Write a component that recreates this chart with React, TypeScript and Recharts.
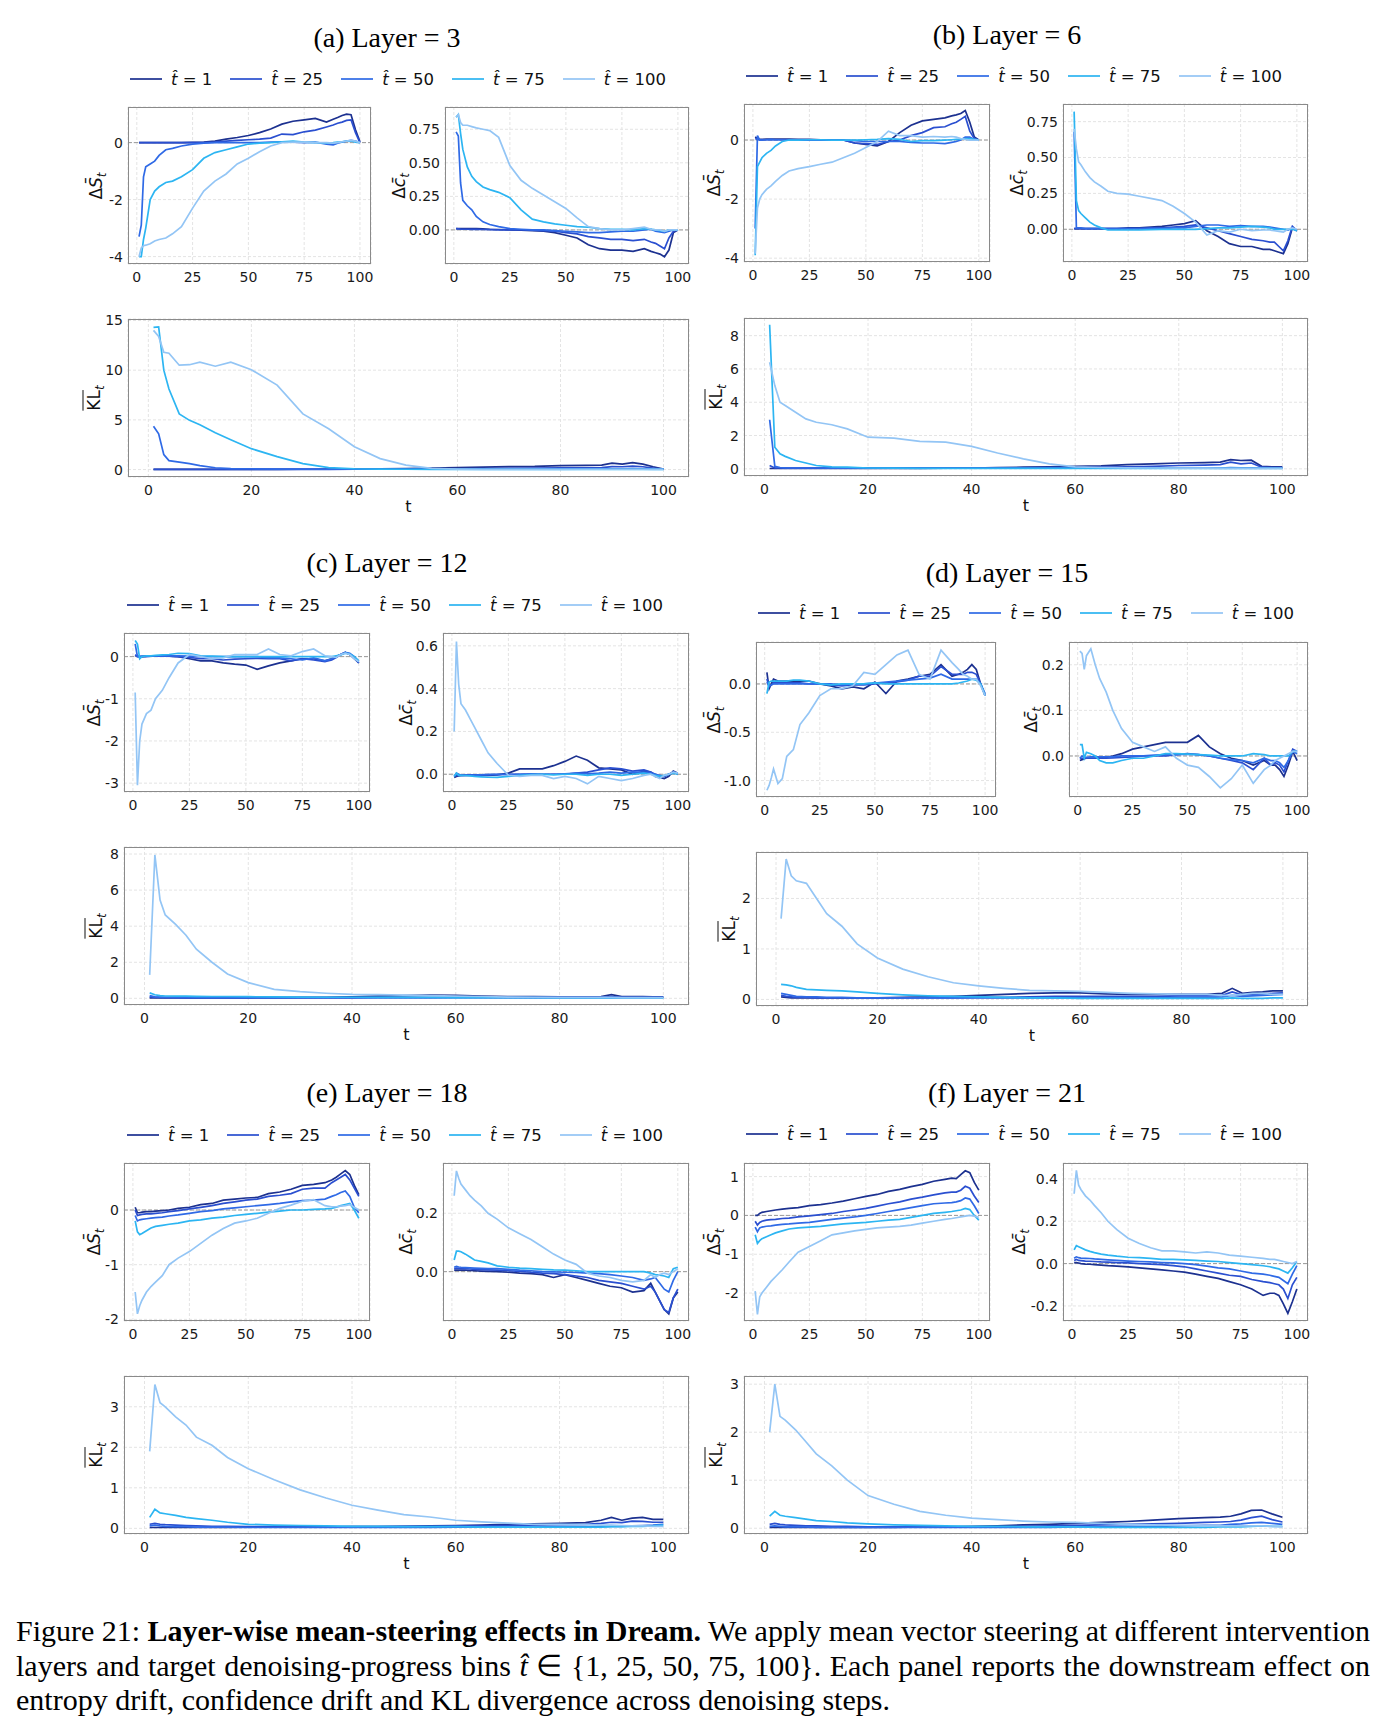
import React from "react";
import { LineChart, Line, XAxis, YAxis, CartesianGrid, ReferenceLine } from "recharts";

// denoising step grid shared by every series
const T = [1, 2, 3, 4, 6, 8, 10, 13, 16, 20, 25, 30, 35, 40, 45, 50, 55, 60, 65, 70, 75, 80, 85, 88, 90, 92, 94, 96, 98, 100];

const BINS = ["1", "25", "50", "75", "100"];
const COLORS = ["#1c3190", "#2a4fd0", "#2f6ae6", "#2cb5f2", "#93c5f5"];

const X_SMALL = [0, 25, 50, 75, 100];
const X_KL = [0, 20, 40, 60, 80, 100];

// (a) Layer = 3
const a_dS_1 = [0, 0, 0, 0, 0, 0, 0, 0, 0, 0, 0.01, 0.02, 0.05, 0.12, 0.18, 0.25, 0.35, 0.48, 0.65, 0.75, 0.8, 0.85, 0.72, 0.82, 0.88, 0.95, 1.0, 0.98, 0.45, 0.03];
const a_dS_25 = [0, 0, 0, 0, 0, 0, 0, 0, 0, 0, 0, 0, 0.02, 0.05, 0.08, 0.1, 0.12, 0.16, 0.3, 0.28, 0.38, 0.44, 0.55, 0.62, 0.68, 0.72, 0.78, 0.8, 0.35, 0.0];
const a_dS_50 = [-3.3, -2.9, -1.2, -0.85, -0.75, -0.65, -0.45, -0.25, -0.2, -0.12, -0.05, -0.02, 0, 0, 0, 0, 0, 0.02, 0.03, 0.02, 0, 0.02, -0.05, -0.08, -0.02, 0.02, 0.05, 0.08, 0.05, 0];
const a_dS_75 = [-4.0, -4.0, -3.4, -3.0, -2.0, -1.7, -1.55, -1.4, -1.35, -1.2, -0.95, -0.55, -0.35, -0.25, -0.15, -0.05, -0.02, 0, 0.03, 0.05, 0.02, 0, -0.02, 0, 0.02, 0.03, 0.05, 0.06, 0.02, 0];
const a_dS_100 = [-4.0, -3.7, -3.62, -3.6, -3.55, -3.45, -3.4, -3.35, -3.2, -2.95, -2.3, -1.7, -1.35, -1.1, -0.75, -0.55, -0.32, -0.12, 0, 0.02, 0.02, 0, 0, -0.02, 0, 0.03, 0.05, 0.08, 0.05, 0];

const a_dc_1 = [0.01, 0.01, 0.01, 0.01, 0.01, 0.01, 0.01, 0.008, 0.005, 0.003, 0, -0.002, -0.005, -0.01, -0.02, -0.04, -0.06, -0.11, -0.14, -0.15, -0.15, -0.16, -0.14, -0.16, -0.17, -0.18, -0.2, -0.15, -0.02, 0];
const a_dc_25 = [0.01, 0.008, 0.006, 0.005, 0.005, 0.004, 0.004, 0.003, 0.002, 0, 0, 0, -0.002, -0.005, -0.01, -0.02, -0.03, -0.05, -0.06, -0.07, -0.07, -0.08, -0.07, -0.09, -0.1, -0.12, -0.14, -0.06, -0.01, 0];
const a_dc_50 = [0.73, 0.7, 0.35, 0.22, 0.18, 0.15, 0.1, 0.06, 0.04, 0.025, 0.01, 0.005, 0, 0, -0.005, -0.01, -0.015, -0.02, -0.02, -0.015, -0.01, -0.01, 0, 0.005, -0.01, -0.015, -0.02, -0.01, 0, 0];
const a_dc_75 = [0.84, 0.86, 0.72, 0.6, 0.47, 0.4, 0.36, 0.32, 0.3, 0.28, 0.24, 0.15, 0.08, 0.06, 0.045, 0.035, 0.025, 0.02, 0.01, 0.005, 0.005, 0, 0.01, 0.005, 0, -0.005, -0.01, 0, 0, 0];
const a_dc_100 = [0.84, 0.86, 0.8, 0.78, 0.78, 0.77, 0.76, 0.75, 0.74, 0.69, 0.48, 0.37, 0.31, 0.26, 0.21, 0.16, 0.09, 0.025, 0.01, 0, 0, 0.01, 0.02, 0.005, 0, 0, -0.01, 0, 0, 0];

const a_KL_1 = [0.02, 0.02, 0.02, 0.02, 0.02, 0.02, 0.02, 0.02, 0.02, 0.02, 0.02, 0.03, 0.04, 0.05, 0.08, 0.1, 0.15, 0.2, 0.25, 0.3, 0.32, 0.4, 0.42, 0.45, 0.65, 0.55, 0.7, 0.55, 0.28, 0.05];
const a_KL_25 = [0.02, 0.02, 0.02, 0.02, 0.02, 0.02, 0.02, 0.02, 0.02, 0.02, 0.02, 0.02, 0.02, 0.03, 0.04, 0.05, 0.07, 0.08, 0.1, 0.12, 0.14, 0.16, 0.18, 0.2, 0.3, 0.28, 0.35, 0.28, 0.15, 0.03];
const a_KL_50 = [4.35, 3.6, 1.5, 0.9, 0.75, 0.6, 0.4, 0.18, 0.1, 0.08, 0.05, 0.04, 0.03, 0.03, 0.03, 0.03, 0.03, 0.04, 0.05, 0.05, 0.05, 0.06, 0.06, 0.06, 0.08, 0.08, 0.1, 0.08, 0.05, 0.03];
const a_KL_75 = [14.3, 14.35, 10.0, 8.1, 5.6, 4.95, 4.5, 3.7, 3.0, 2.1, 1.3, 0.6, 0.2, 0.08, 0.05, 0.03, 0.02, 0.02, 0.02, 0.02, 0.02, 0.02, 0.02, 0.02, 0.02, 0.02, 0.02, 0.02, 0.02, 0.01];
const a_KL_100 = [14.0, 13.4, 11.8, 11.7, 10.5, 10.55, 10.8, 10.4, 10.8, 10.05, 8.5, 5.6, 4.1, 2.3, 1.1, 0.45, 0.12, 0.05, 0.02, 0.02, 0.02, 0.02, 0.03, 0.03, 0.03, 0.03, 0.03, 0.03, 0.02, 0.01];

// (b) Layer = 6
const b_dS_1 = [0.1, 0.05, 0.02, 0.02, 0.03, 0.03, 0.03, 0.03, 0.03, 0.02, 0.02, 0.01, 0.01, 0, -0.1, -0.15, -0.2, -0.05, 0.25, 0.5, 0.65, 0.7, 0.75, 0.82, 0.85, 0.9, 1.0, 0.6, 0.1, 0];
const b_dS_25 = [0.05, 0.02, 0.01, 0.01, 0.01, 0.01, 0.01, 0.01, 0.01, 0.01, 0, 0, 0, 0, -0.1, -0.12, -0.15, -0.05, 0, 0.15, 0.25, 0.42, 0.45, 0.55, 0.6, 0.7, 0.8, 0.3, 0.05, 0];
const b_dS_50 = [-3.0, 0.15, 0.0, 0.0, 0.01, 0.02, 0.01, 0.01, 0.0, 0.0, 0.0, 0.0, 0.0, 0.0, -0.02, -0.05, -0.05, -0.05, -0.05, -0.08, -0.1, -0.1, -0.12, -0.08, -0.05, 0.0, 0.1, 0.1, 0.02, 0];
const b_dS_75 = [-3.9, -0.9, -0.75, -0.6, -0.45, -0.35, -0.2, -0.05, 0, 0, 0.01, 0.01, 0, 0, 0, 0.01, 0.02, 0.05, 0.02, -0.05, -0.02, -0.02, 0, 0.01, 0.02, 0.03, 0.05, 0.05, 0.02, 0];
const b_dS_100 = [-3.85, -2.3, -2.0, -1.85, -1.67, -1.55, -1.4, -1.2, -1.05, -0.97, -0.9, -0.82, -0.75, -0.6, -0.45, -0.25, -0.05, 0.3, 0.15, 0.15, 0.1, 0.12, 0.1, 0.12, 0.1, 0.05, 0.02, 0, 0, 0];

const b_dc_1 = [0.005, 0.005, 0.005, 0.005, 0.005, 0.005, 0.005, 0.005, 0.005, 0.005, 0.01, 0.01, 0.015, 0.02, 0.03, 0.04, 0.06, -0.01, -0.05, -0.1, -0.12, -0.12, -0.14, -0.14, -0.15, -0.16, -0.17, -0.1, 0.01, -0.01];
const b_dc_25 = [0.005, 0.005, 0.005, 0.005, 0.005, 0.005, 0.005, 0.005, 0.005, 0.005, 0.005, 0.005, 0.01, 0.01, 0.015, 0.02, 0.03, 0.01, -0.01, -0.03, -0.05, -0.07, -0.08, -0.09, -0.09, -0.12, -0.15, -0.08, 0.02, -0.01];
const b_dc_50 = [0.68, 0.01, 0.01, 0.01, 0.005, 0.005, 0.005, 0.005, 0.005, 0.005, 0.005, 0.005, 0.005, 0.005, 0.01, 0.01, 0.02, 0.03, 0.03, 0.02, 0.025, 0.02, 0.02, 0.015, 0.01, 0.005, 0, -0.005, 0.01, -0.01];
const b_dc_75 = [0.82, 0.2, 0.13, 0.11, 0.08, 0.05, 0.03, 0.01, -0.005, -0.005, -0.005, -0.005, -0.003, 0, 0, 0, 0, 0.005, 0.01, 0.01, 0.015, 0.02, 0.015, 0.01, 0, 0, 0, 0, 0, -0.01];
const b_dc_100 = [0.7, 0.56, 0.47, 0.45, 0.4, 0.36, 0.33, 0.3, 0.265, 0.25, 0.245, 0.23, 0.215, 0.2, 0.16, 0.11, 0.05, -0.04, -0.01, -0.02, 0, -0.01, -0.005, -0.005, -0.01, -0.015, -0.02, 0, 0.01, 0];

const b_KL_1 = [0.02, 0.03, 0.03, 0.03, 0.03, 0.03, 0.03, 0.03, 0.03, 0.03, 0.03, 0.03, 0.04, 0.05, 0.07, 0.1, 0.12, 0.15, 0.18, 0.25, 0.3, 0.35, 0.37, 0.4, 0.55, 0.5, 0.52, 0.15, 0.12, 0.12];
const b_KL_25 = [0.2, 0.05, 0.05, 0.05, 0.04, 0.04, 0.04, 0.04, 0.04, 0.04, 0.04, 0.04, 0.04, 0.04, 0.05, 0.06, 0.07, 0.08, 0.1, 0.12, 0.15, 0.2, 0.22, 0.25, 0.4, 0.3, 0.35, 0.1, 0.08, 0.08];
const b_KL_50 = [2.95, 0.15, 0.08, 0.06, 0.05, 0.05, 0.05, 0.04, 0.04, 0.04, 0.04, 0.04, 0.04, 0.04, 0.04, 0.04, 0.04, 0.04, 0.04, 0.04, 0.04, 0.05, 0.05, 0.05, 0.08, 0.06, 0.06, 0.05, 0.05, 0.05];
const b_KL_75 = [8.65, 1.3, 0.9, 0.75, 0.5, 0.35, 0.2, 0.12, 0.1, 0.05, 0.04, 0.03, 0.03, 0.03, 0.03, 0.03, 0.03, 0.03, 0.03, 0.03, 0.03, 0.03, 0.03, 0.03, 0.03, 0.03, 0.03, 0.03, 0.03, 0.03];
const b_KL_100 = [6.4, 5.0, 4.0, 3.8, 3.4, 3.0, 2.8, 2.65, 2.4, 1.9, 1.85, 1.65, 1.6, 1.35, 0.95, 0.6, 0.3, 0.12, 0.08, 0.06, 0.05, 0.04, 0.04, 0.03, 0.03, 0.03, 0.03, 0.03, 0.03, 0.03];

// (c) Layer = 12
const c_dS_1 = [0.02, 0.01, 0, 0, 0.01, 0.01, 0.01, 0.01, 0.01, 0, -0.05, -0.1, -0.1, -0.15, -0.18, -0.2, -0.3, -0.22, -0.15, -0.1, -0.05, -0.05, -0.1, -0.05, 0, 0.05, 0.1, 0.05, -0.05, -0.15];
const c_dS_25 = [0.05, 0, 0, 0, 0, 0.01, 0.01, 0.01, 0.01, 0, -0.02, -0.05, -0.05, -0.08, -0.06, -0.05, -0.04, -0.05, -0.05, -0.1, -0.05, -0.08, -0.12, -0.08, -0.02, 0.05, 0.1, 0.05, -0.03, -0.15];
const c_dS_50 = [0.3, 0, 0, 0.01, 0.01, 0.01, 0.02, 0.02, 0.02, 0.02, 0.01, 0, 0, 0, 0, 0, 0, -0.03, -0.03, -0.05, -0.08, -0.03, -0.1, -0.05, 0, 0.05, 0.1, 0.08, 0, -0.12];
const c_dS_75 = [0.38, 0.3, -0.05, 0, 0.02, 0.02, 0.03, 0.04, 0.05, 0.08, 0.07, 0.02, 0.01, 0, 0, 0, 0, 0, 0, 0, 0, 0, 0, 0, 0.02, 0.04, 0.08, 0.06, 0, -0.1];
const c_dS_100 = [-0.85, -3.05, -2.0, -1.6, -1.35, -1.27, -1.0, -0.8, -0.5, -0.15, 0.05, 0, -0.05, -0.03, 0.05, 0.05, 0.05, 0.18, 0.05, 0.02, 0.12, 0.18, 0.02, 0, -0.02, 0.05, 0.08, 0.05, -0.05, -0.12];

const c_dc_1 = [-0.015, -0.01, -0.008, -0.006, -0.005, -0.005, -0.005, -0.005, -0.005, -0.003, 0.005, 0.025, 0.025, 0.025, 0.04, 0.06, 0.085, 0.065, 0.03, 0.025, 0.02, 0, 0.015, 0.01, -0.01, -0.015, -0.02, -0.01, 0.015, 0.005];
const c_dc_25 = [-0.01, -0.005, -0.005, -0.005, -0.004, -0.003, -0.003, -0.003, -0.002, -0.002, 0, 0, 0, 0, 0, 0, 0.005, 0.01, 0.02, 0.03, 0.025, 0.015, 0.02, 0.01, 0, -0.01, -0.01, 0, 0.01, 0];
const c_dc_50 = [-0.01, 0.005, 0, -0.005, -0.005, -0.004, -0.004, -0.003, -0.002, 0, -0.002, 0, 0.002, 0, 0, 0.002, 0.005, 0.002, 0.005, 0.01, 0.005, 0.01, 0.01, 0.005, 0, -0.005, -0.01, 0, 0.01, 0.005];
const c_dc_75 = [-0.01, 0.005, -0.005, -0.005, -0.006, -0.008, -0.01, -0.012, -0.014, -0.015, -0.01, -0.005, -0.002, 0, -0.003, 0, 0, -0.005, 0, 0, -0.005, 0, 0.005, 0, -0.005, -0.01, -0.005, 0, 0.005, 0];
const c_dc_100 = [0.2, 0.62, 0.42, 0.33, 0.3, 0.26, 0.22, 0.16, 0.1, 0.05, -0.005, -0.01, -0.005, -0.005, -0.02, -0.01, -0.02, -0.045, -0.01, -0.02, -0.03, -0.02, -0.005, 0, -0.01, -0.02, -0.005, 0, 0.01, 0.005];

const c_KL_1 = [0.02, 0.02, 0.02, 0.02, 0.02, 0.02, 0.02, 0.03, 0.03, 0.03, 0.04, 0.05, 0.06, 0.08, 0.12, 0.15, 0.18, 0.17, 0.12, 0.1, 0.09, 0.08, 0.08, 0.1, 0.2, 0.1, 0.1, 0.1, 0.08, 0.08];
const c_KL_25 = [0.08, 0.06, 0.05, 0.04, 0.04, 0.03, 0.03, 0.03, 0.03, 0.03, 0.03, 0.03, 0.03, 0.03, 0.04, 0.04, 0.04, 0.05, 0.05, 0.05, 0.05, 0.05, 0.05, 0.06, 0.1, 0.06, 0.06, 0.06, 0.06, 0.06];
const c_KL_50 = [0.15, 0.08, 0.07, 0.06, 0.05, 0.05, 0.05, 0.04, 0.04, 0.04, 0.04, 0.04, 0.04, 0.04, 0.04, 0.04, 0.04, 0.04, 0.04, 0.04, 0.04, 0.04, 0.04, 0.04, 0.05, 0.04, 0.04, 0.04, 0.04, 0.04];
const c_KL_75 = [0.3, 0.2, 0.15, 0.13, 0.12, 0.12, 0.11, 0.1, 0.1, 0.09, 0.08, 0.07, 0.06, 0.06, 0.05, 0.05, 0.05, 0.04, 0.04, 0.04, 0.04, 0.03, 0.03, 0.03, 0.03, 0.03, 0.03, 0.03, 0.03, 0.03];
const c_KL_100 = [1.3, 7.95, 5.45, 4.62, 4.1, 3.5, 2.72, 2.0, 1.35, 0.87, 0.5, 0.37, 0.28, 0.22, 0.2, 0.18, 0.15, 0.12, 0.1, 0.07, 0.06, 0.05, 0.05, 0.05, 0.05, 0.04, 0.04, 0.04, 0.04, 0.04];

// (d) Layer = 15
const d_dS_1 = [0.12, -0.05, 0, 0.05, 0.03, 0.03, 0.03, 0.03, 0.03, 0.03, 0, -0.02, -0.05, -0.03, -0.05, 0.02, -0.1, 0.03, 0.05, 0.08, 0.1, 0.2, 0.08, 0.1, 0.12, 0.15, 0.2, 0.15, 0, -0.12];
const d_dS_25 = [0.05, -0.03, -0.01, 0.01, 0.01, 0.01, 0.01, 0.01, 0.01, 0, 0, -0.01, -0.02, -0.01, -0.01, 0, 0.01, 0.02, 0.04, 0.08, 0.08, 0.18, 0.1, 0.1, 0.1, 0.12, 0.12, 0.1, 0, -0.12];
const d_dS_50 = [0.02, -0.02, -0.01, 0, 0, 0, 0, 0, 0, 0, 0, 0, -0.01, 0, 0, 0.01, 0.02, 0.03, 0.04, 0.05, 0.06, 0.1, 0.05, 0.05, 0.05, 0.05, 0.05, 0.05, 0, -0.1];
const d_dS_75 = [-0.1, 0.02, 0.03, 0.03, 0.03, 0.03, 0.03, 0.04, 0.04, 0.03, 0, -0.01, 0, 0, 0, 0.01, 0, 0, 0, 0, 0, 0, 0, 0.01, 0.02, 0.03, 0.05, 0.04, 0, -0.12];
const d_dS_100 = [-1.1, -1.05, -0.97, -0.88, -1.03, -0.98, -0.75, -0.68, -0.42, -0.3, -0.12, -0.05, -0.05, -0.02, 0.12, 0.1, 0.2, 0.3, 0.35, 0.1, 0.05, 0.35, 0.22, 0.15, 0.1, 0.08, 0.05, 0.05, -0.02, -0.12];

const d_dc_1 = [-0.01, -0.008, -0.006, -0.005, -0.005, -0.005, -0.004, -0.003, 0, 0.005, 0.015, 0.02, 0.025, 0.03, 0.03, 0.03, 0.045, 0.02, 0.005, -0.005, -0.01, -0.02, -0.01, -0.02, -0.02, -0.03, -0.045, -0.02, 0.01, -0.01];
const d_dc_25 = [-0.005, -0.005, -0.005, -0.005, -0.005, -0.005, -0.005, -0.005, -0.004, -0.003, -0.002, 0, 0, 0, 0.003, 0.005, 0.003, 0, -0.005, -0.01, -0.015, -0.03, -0.005, -0.02, -0.015, -0.02, -0.035, -0.01, 0.015, 0.01];
const d_dc_50 = [-0.005, 0, -0.003, -0.003, -0.002, -0.002, -0.002, -0.002, -0.002, 0, 0, 0, 0.002, 0.003, 0.003, 0.004, 0.003, 0, -0.005, -0.008, -0.01, -0.015, -0.005, -0.01, -0.01, -0.015, -0.025, -0.01, 0.01, 0.005];
const d_dc_75 = [0.025, 0.025, -0.005, 0.008, 0.005, 0, -0.01, -0.015, -0.015, -0.01, -0.005, -0.005, 0, 0.005, 0.005, 0.004, 0.003, 0.002, 0, 0, 0, 0.005, 0.003, 0, 0, 0, 0, 0, 0.01, 0.01];
const d_dc_100 = [0.23, 0.225, 0.19, 0.22, 0.235, 0.2, 0.17, 0.14, 0.1, 0.06, 0.03, 0.02, 0.01, 0.02, -0.005, -0.02, -0.025, -0.045, -0.07, -0.05, -0.02, -0.06, -0.03, -0.02, -0.01, -0.005, 0, 0.005, 0.01, 0.01];

const d_KL_1 = [0.05, 0.04, 0.03, 0.03, 0.03, 0.03, 0.03, 0.03, 0.03, 0.03, 0.04, 0.05, 0.06, 0.08, 0.1, 0.12, 0.13, 0.13, 0.11, 0.1, 0.1, 0.1, 0.1, 0.12, 0.22, 0.12, 0.14, 0.15, 0.17, 0.17];
const d_KL_25 = [0.08, 0.06, 0.05, 0.04, 0.04, 0.03, 0.03, 0.03, 0.03, 0.03, 0.03, 0.03, 0.03, 0.04, 0.04, 0.05, 0.06, 0.06, 0.06, 0.06, 0.06, 0.07, 0.07, 0.08, 0.15, 0.09, 0.1, 0.11, 0.12, 0.13];
const d_KL_50 = [0.12, 0.1, 0.08, 0.06, 0.05, 0.05, 0.04, 0.04, 0.03, 0.03, 0.03, 0.03, 0.03, 0.03, 0.03, 0.03, 0.03, 0.03, 0.03, 0.03, 0.03, 0.04, 0.04, 0.05, 0.08, 0.06, 0.07, 0.08, 0.09, 0.1];
const d_KL_75 = [0.3, 0.29, 0.27, 0.24, 0.2, 0.19, 0.18, 0.17, 0.15, 0.12, 0.09, 0.07, 0.06, 0.05, 0.04, 0.03, 0.03, 0.02, 0.02, 0.02, 0.02, 0.02, 0.02, 0.02, 0.03, 0.02, 0.02, 0.02, 0.03, 0.03];
const d_KL_100 = [1.6, 2.78, 2.45, 2.35, 2.3, 2.0, 1.7, 1.45, 1.1, 0.82, 0.6, 0.45, 0.33, 0.27, 0.22, 0.18, 0.17, 0.16, 0.14, 0.12, 0.11, 0.1, 0.1, 0.08, 0.08, 0.1, 0.12, 0.12, 0.1, 0.1];

// (e) Layer = 18
const e_dS_1 = [0.05, -0.05, -0.05, -0.04, -0.03, -0.03, -0.02, -0.01, 0, 0.03, 0.05, 0.1, 0.12, 0.18, 0.2, 0.22, 0.23, 0.3, 0.33, 0.38, 0.45, 0.47, 0.5, 0.55, 0.6, 0.66, 0.72, 0.65, 0.45, 0.28];
const e_dS_25 = [0, -0.1, -0.09, -0.08, -0.07, -0.07, -0.06, -0.05, -0.03, -0.01, 0.02, 0.05, 0.08, 0.12, 0.15, 0.18, 0.2, 0.25, 0.27, 0.3, 0.38, 0.4, 0.4, 0.5, 0.55, 0.6, 0.65, 0.55, 0.4, 0.25];
const e_dS_50 = [-0.1, -0.2, -0.18, -0.17, -0.16, -0.15, -0.14, -0.13, -0.11, -0.09, -0.06, -0.03, -0.01, 0.02, 0.04, 0.06, 0.08, 0.1, 0.12, 0.15, 0.17, 0.18, 0.2, 0.25, 0.28, 0.32, 0.35, 0.25, 0.05, -0.05];
const e_dS_75 = [-0.2, -0.4, -0.45, -0.43, -0.38, -0.33, -0.3, -0.28, -0.26, -0.24, -0.2, -0.18, -0.15, -0.13, -0.1, -0.08, -0.06, -0.04, -0.02, 0, 0, 0.01, 0.02, 0.03, 0.05, 0.08, 0.1, 0.12, 0, -0.15];
const e_dS_100 = [-1.5, -1.9, -1.75, -1.65, -1.5, -1.4, -1.32, -1.2, -1.0, -0.88, -0.76, -0.61, -0.46, -0.34, -0.24, -0.2, -0.15, -0.06, 0.03, 0.09, 0.16, 0.19, 0.08, 0.06, 0.06, 0.07, 0.08, 0.1, 0.05, 0];

const e_dc_1 = [0.005, 0.005, 0.005, 0.005, 0.005, 0.004, 0.003, 0.002, 0.001, 0, -0.002, -0.005, -0.007, -0.01, -0.02, -0.01, -0.02, -0.03, -0.04, -0.05, -0.055, -0.07, -0.065, -0.04, -0.07, -0.1, -0.13, -0.145, -0.09, -0.07];
const e_dc_25 = [0.01, 0.012, 0.011, 0.01, 0.01, 0.009, 0.008, 0.007, 0.006, 0.005, 0.003, 0.001, -0.002, -0.005, -0.007, -0.01, -0.015, -0.02, -0.03, -0.035, -0.04, -0.05, -0.06, -0.05, -0.07, -0.1, -0.13, -0.14, -0.09, -0.06];
const e_dc_50 = [0.015, 0.018, 0.016, 0.015, 0.014, 0.013, 0.012, 0.011, 0.01, 0.01, 0.008, 0.005, 0.003, 0, -0.001, -0.002, -0.003, -0.005, -0.007, -0.01, -0.015, -0.02, -0.03, -0.025, -0.02, -0.04, -0.06, -0.07, -0.03, 0];
const e_dc_75 = [0.04, 0.07, 0.07, 0.068, 0.06, 0.05, 0.04, 0.035, 0.03, 0.02, 0.015, 0.012, 0.01, 0.008, 0.006, 0.005, 0.003, 0, 0, 0, 0, 0, 0, -0.005, -0.01, -0.012, -0.015, -0.02, 0.01, 0.015];
const e_dc_100 = [0.26, 0.345, 0.32, 0.3, 0.28, 0.26, 0.245, 0.225, 0.2, 0.18, 0.15, 0.13, 0.11, 0.085, 0.06, 0.04, 0.025, -0.005, -0.015, -0.02, -0.03, -0.035, -0.03, -0.01, -0.02, -0.01, -0.005, -0.01, 0, 0.01];

const e_KL_1 = [0.02, 0.02, 0.02, 0.02, 0.02, 0.02, 0.02, 0.02, 0.02, 0.03, 0.03, 0.03, 0.03, 0.04, 0.04, 0.05, 0.06, 0.07, 0.08, 0.1, 0.11, 0.12, 0.14, 0.2, 0.27, 0.2, 0.25, 0.27, 0.22, 0.22];
const e_KL_25 = [0.1, 0.12, 0.1, 0.09, 0.08, 0.07, 0.06, 0.05, 0.05, 0.04, 0.04, 0.04, 0.04, 0.04, 0.04, 0.05, 0.05, 0.06, 0.06, 0.07, 0.08, 0.09, 0.1, 0.12, 0.15, 0.14, 0.18, 0.17, 0.15, 0.15];
const e_KL_50 = [0.06, 0.08, 0.06, 0.05, 0.04, 0.04, 0.03, 0.03, 0.03, 0.02, 0.02, 0.02, 0.02, 0.02, 0.02, 0.02, 0.02, 0.03, 0.03, 0.03, 0.03, 0.04, 0.04, 0.04, 0.05, 0.05, 0.06, 0.07, 0.08, 0.1];
const e_KL_75 = [0.27, 0.47, 0.38, 0.36, 0.32, 0.27, 0.24, 0.2, 0.15, 0.1, 0.08, 0.07, 0.06, 0.05, 0.05, 0.04, 0.04, 0.04, 0.03, 0.03, 0.03, 0.03, 0.03, 0.03, 0.04, 0.04, 0.05, 0.05, 0.06, 0.08];
const e_KL_100 = [1.9, 3.55, 3.1, 3.0, 2.75, 2.55, 2.25, 2.05, 1.75, 1.47, 1.2, 0.95, 0.75, 0.57, 0.45, 0.34, 0.28, 0.2, 0.16, 0.13, 0.1, 0.1, 0.09, 0.08, 0.08, 0.07, 0.06, 0.06, 0.05, 0.05];

// (f) Layer = 21
const f_dS_1 = [0, 0, 0.05, 0.08, 0.1, 0.12, 0.14, 0.16, 0.18, 0.2, 0.25, 0.28, 0.32, 0.37, 0.43, 0.49, 0.54, 0.62, 0.67, 0.74, 0.8, 0.88, 0.93, 0.96, 0.95, 1.05, 1.15, 1.1, 0.85, 0.65];
const f_dS_25 = [-0.15, -0.25, -0.18, -0.15, -0.12, -0.11, -0.1, -0.08, -0.07, -0.04, -0.01, 0.02, 0.05, 0.1, 0.14, 0.18, 0.24, 0.3, 0.35, 0.42, 0.47, 0.53, 0.58, 0.6, 0.6, 0.65, 0.75, 0.7, 0.5, 0.33];
const f_dS_50 = [-0.3, -0.42, -0.32, -0.3, -0.28, -0.27, -0.25, -0.23, -0.22, -0.2, -0.18, -0.14, -0.1, -0.07, -0.04, 0, 0.05, 0.1, 0.15, 0.2, 0.25, 0.3, 0.32, 0.33, 0.35, 0.38, 0.45, 0.42, 0.25, 0.05];
const f_dS_75 = [-0.5, -0.72, -0.65, -0.6, -0.55, -0.5, -0.45, -0.4, -0.35, -0.32, -0.3, -0.28, -0.25, -0.22, -0.2, -0.18, -0.15, -0.12, -0.1, -0.05, 0, 0.05, 0.08, 0.1, 0.12, 0.14, 0.18, 0.15, 0, -0.12];
const f_dS_100 = [-1.95, -2.55, -2.1, -2.0, -1.85, -1.7, -1.58, -1.4, -1.2, -0.95, -0.8, -0.65, -0.5, -0.45, -0.4, -0.36, -0.32, -0.3, -0.28, -0.25, -0.2, -0.15, -0.1, -0.08, -0.06, -0.04, -0.02, 0, -0.02, -0.05];

const f_dc_1 = [0.005, 0.005, 0.003, 0, -0.002, -0.003, -0.005, -0.007, -0.01, -0.012, -0.015, -0.02, -0.025, -0.03, -0.035, -0.04, -0.05, -0.06, -0.07, -0.085, -0.1, -0.12, -0.15, -0.14, -0.14, -0.15, -0.19, -0.235, -0.18, -0.12];
const f_dc_25 = [0.015, 0.02, 0.015, 0.014, 0.012, 0.011, 0.01, 0.008, 0.007, 0.005, 0.003, 0, -0.002, -0.005, -0.01, -0.015, -0.025, -0.035, -0.045, -0.055, -0.06, -0.075, -0.085, -0.09, -0.095, -0.1, -0.12, -0.165, -0.1, -0.065];
const f_dc_50 = [0.025, 0.032, 0.028, 0.026, 0.025, 0.024, 0.022, 0.02, 0.018, 0.015, 0.012, 0.01, 0.008, 0.005, 0.003, 0, -0.005, -0.012, -0.02, -0.025, -0.035, -0.045, -0.05, -0.055, -0.06, -0.065, -0.08, -0.095, -0.05, -0.01];
const f_dc_75 = [0.065, 0.085, 0.08, 0.075, 0.065, 0.058, 0.052, 0.045, 0.04, 0.035, 0.03, 0.028, 0.025, 0.02, 0.02, 0.018, 0.015, 0.012, 0.01, 0.005, 0, -0.005, -0.01, -0.015, -0.02, -0.025, -0.035, -0.045, -0.02, 0.01];
const f_dc_100 = [0.33, 0.44, 0.37, 0.35, 0.32, 0.3, 0.275, 0.24, 0.2, 0.16, 0.12, 0.095, 0.075, 0.06, 0.06, 0.055, 0.05, 0.055, 0.05, 0.04, 0.035, 0.03, 0.025, 0.02, 0.02, 0.015, 0.01, 0.005, 0, 0.01];

const f_KL_1 = [0.02, 0.02, 0.02, 0.02, 0.02, 0.02, 0.02, 0.02, 0.02, 0.02, 0.02, 0.03, 0.03, 0.04, 0.05, 0.07, 0.08, 0.1, 0.12, 0.14, 0.17, 0.2, 0.22, 0.23, 0.25, 0.3, 0.37, 0.38, 0.3, 0.23];
const f_KL_25 = [0.08, 0.1, 0.08, 0.07, 0.06, 0.05, 0.05, 0.04, 0.04, 0.03, 0.03, 0.03, 0.03, 0.03, 0.03, 0.04, 0.05, 0.06, 0.07, 0.08, 0.09, 0.1, 0.12, 0.13, 0.14, 0.17, 0.22, 0.25, 0.18, 0.13];
const f_KL_50 = [0.04, 0.05, 0.04, 0.03, 0.03, 0.03, 0.02, 0.02, 0.02, 0.02, 0.02, 0.02, 0.02, 0.02, 0.02, 0.02, 0.02, 0.03, 0.03, 0.04, 0.04, 0.05, 0.06, 0.06, 0.08, 0.09, 0.11, 0.12, 0.1, 0.08];
const f_KL_75 = [0.25, 0.35, 0.27, 0.25, 0.22, 0.19, 0.16, 0.14, 0.11, 0.09, 0.07, 0.06, 0.05, 0.04, 0.04, 0.03, 0.03, 0.03, 0.02, 0.02, 0.02, 0.02, 0.02, 0.03, 0.03, 0.03, 0.04, 0.05, 0.04, 0.04];
const f_KL_100 = [2.0, 3.0, 2.33, 2.25, 2.05, 1.8, 1.55, 1.3, 1.0, 0.68, 0.5, 0.35, 0.27, 0.21, 0.18, 0.15, 0.13, 0.12, 0.1, 0.08, 0.07, 0.06, 0.05, 0.05, 0.05, 0.05, 0.05, 0.05, 0.04, 0.03];

const X_DOMAIN = [-3.95, 104.95];
const YW = 50;
const XH = 26;
const MT = 10;
const MR = 12;
const KEYS = ["s1", "s25", "s50", "s75", "s100"];
const SANS = "'DejaVu Sans', Verdana, sans-serif";
const SERIF = "'Liberation Serif', 'Times New Roman', serif";
const tickStyle = { fontSize: 14, fill: "#1a1a1a", fontFamily: SANS };

type Box = { l: number; t: number; w: number; h: number };
type Kind = "dS" | "dc" | "KL";

function YLabel({ kind }: { kind: Kind }) {
  const sub = <i style={{ fontSize: 12, position: "relative", top: 4 }}>t</i>;
  if (kind === "KL")
    return (<span><span style={{ textDecoration: "overline" }}>KL</span>{sub}</span>);
  return (<span>Δ<i>{kind === "dS" ? "S\u0304" : "c\u0304"}</i>{sub}</span>);
}

function Sub({ box, kind, series, yTicks, yDomain, dec, labelOff }: {
  box: Box; kind: Kind; series: number[][]; yTicks: number[]; yDomain: number[]; dec: number; labelOff: number;
}) {
  const data = T.map((t, i) => {
    const row: Record<string, number> = { t };
    series.forEach((s, k) => { row[KEYS[k]] = s[i]; });
    return row;
  });
  const isKL = kind === "KL";
  return (
    <>
      <div style={{ position: "absolute", left: box.l - YW, top: box.t - MT }}>
        <LineChart width={box.w + YW + MR} height={box.h + MT + XH} data={data}
          margin={{ top: MT, right: MR, bottom: 0, left: 0 }}>
          <CartesianGrid stroke="#e4e4e4" strokeDasharray="3 2" />
          <XAxis dataKey="t" type="number" domain={X_DOMAIN} ticks={isKL ? X_KL : X_SMALL} interval={0}
            axisLine={false} tickLine={false} height={XH} tick={tickStyle} allowDataOverflow />
          <YAxis type="number" domain={yDomain} ticks={yTicks} interval={0} axisLine={false} tickLine={false}
            width={YW} tickSize={3} tick={tickStyle} tickFormatter={(v: number) => v.toFixed(dec)} allowDataOverflow />
          {!isKL && <ReferenceLine y={0} stroke="#9a9a9a" strokeDasharray="4 2" strokeWidth={1} />}
          {KEYS.map((k, i) => (
            <Line key={k} dataKey={k} type="linear" stroke={COLORS[i]} strokeWidth={1.7}
              dot={false} activeDot={false} isAnimationActive={false} />
          ))}
        </LineChart>
      </div>
      <div style={{ position: "absolute", left: box.l, top: box.t, width: box.w, height: box.h,
        border: "1.2px solid #8a8a8a", boxSizing: "border-box", pointerEvents: "none" }} />
      <div style={{ position: "absolute", left: box.l - labelOff, top: box.t + box.h / 2,
        transform: "translate(-50%, -50%) rotate(-90deg)", fontFamily: SANS, fontSize: 17,
        whiteSpace: "nowrap", lineHeight: 1, color: "#111" }}>
        <YLabel kind={kind} />
      </div>
      {isKL && (
        <div style={{ position: "absolute", left: box.l + box.w / 2 - 20, width: 40, textAlign: "center",
          top: box.t + box.h + 20, fontFamily: SANS, fontSize: 16, lineHeight: "20px", color: "#111" }}>t</div>
      )}
    </>
  );
}

function Legend({ x, y }: { x: number; y: number }) {
  return (
    <div style={{ position: "absolute", left: x, top: y - 11, height: 22, display: "flex", alignItems: "center",
      fontFamily: SANS, fontSize: 16.5, color: "#111", whiteSpace: "nowrap" }}>
      {BINS.map((b, i) => (
        <div key={b} style={{ display: "flex", alignItems: "center", marginRight: 18 }}>
          <svg width={32} height={6}><line x1={0} y1={3} x2={32} y2={3} stroke={COLORS[i]} strokeWidth={2} opacity={0.85} /></svg>
          <span style={{ marginLeft: 9 }}><i>t{"\u0302"}</i> = {b}</span>
        </div>
      ))}
    </div>
  );
}

type PanelCfg = {
  title: string; tx: number; ty: number; lx: number; ly: number;
  boxes: Box[]; series: number[][][]; ticks: number[][]; domains: number[][]; decs: number[]; offs: number[];
};

const PANELS: PanelCfg[] = [
  {
    title: "(a) Layer = 3", tx: 387, ty: 38, lx: 130, ly: 79,
    boxes: [{ l: 128, t: 107, w: 243, h: 157 }, { l: 445, t: 107, w: 244, h: 157 }, { l: 128, t: 319, w: 561, h: 158 }],
    series: [[a_dS_1, a_dS_25, a_dS_50, a_dS_75, a_dS_100], [a_dc_1, a_dc_25, a_dc_50, a_dc_75, a_dc_100], [a_KL_1, a_KL_25, a_KL_50, a_KL_75, a_KL_100]],
    ticks: [[-4, -2, 0], [0, 0.25, 0.5, 0.75], [0, 5, 10, 15]],
    domains: [[-4.26, 1.25], [-0.254, 0.916], [-0.75, 15.15]], decs: [0, 2, 0], offs: [32, 46, 34],
  },
  {
    title: "(b) Layer = 6", tx: 1007, ty: 35, lx: 746, ly: 76,
    boxes: [{ l: 744, t: 104, w: 246, h: 158 }, { l: 1063, t: 104, w: 245, h: 158 }, { l: 744, t: 318, w: 564, h: 158 }],
    series: [[b_dS_1, b_dS_25, b_dS_50, b_dS_75, b_dS_100], [b_dc_1, b_dc_25, b_dc_50, b_dc_75, b_dc_100], [b_KL_1, b_KL_25, b_KL_50, b_KL_75, b_KL_100]],
    ticks: [[-4, -2, 0], [0, 0.25, 0.5, 0.75], [0, 2, 4, 6, 8]],
    domains: [[-4.13, 1.22], [-0.228, 0.873], [-0.43, 9.06]], decs: [0, 2, 0], offs: [30, 46, 28],
  },
  {
    title: "(c) Layer = 12", tx: 387, ty: 563, lx: 127, ly: 605,
    boxes: [{ l: 124, t: 633, w: 246, h: 159 }, { l: 443, t: 633, w: 246, h: 159 }, { l: 124, t: 847, w: 565, h: 158 }],
    series: [[c_dS_1, c_dS_25, c_dS_50, c_dS_75, c_dS_100], [c_dc_1, c_dc_25, c_dc_50, c_dc_75, c_dc_100], [c_KL_1, c_KL_25, c_KL_50, c_KL_75, c_KL_100]],
    ticks: [[-3, -2, -1, 0], [0, 0.2, 0.4, 0.6], [0, 2, 4, 6, 8]],
    domains: [[-3.21, 0.56], [-0.083, 0.66], [-0.37, 8.39]], decs: [0, 1, 0], offs: [30, 37, 28],
  },
  {
    title: "(d) Layer = 15", tx: 1007, ty: 573, lx: 758, ly: 613,
    boxes: [{ l: 756, t: 642, w: 240, h: 155 }, { l: 1069, t: 642, w: 239, h: 155 }, { l: 756, t: 852, w: 552, h: 154 }],
    series: [[d_dS_1, d_dS_25, d_dS_50, d_dS_75, d_dS_100], [d_dc_1, d_dc_25, d_dc_50, d_dc_75, d_dc_100], [d_KL_1, d_KL_25, d_KL_50, d_KL_75, d_KL_100]],
    ticks: [[-1, -0.5, 0], [0, 0.1, 0.2], [0, 1, 2]],
    domains: [[-1.17, 0.434], [-0.09, 0.25], [-0.13, 2.92]], decs: [1, 1, 0], offs: [42, 38, 27],
  },
  {
    title: "(e) Layer = 18", tx: 387, ty: 1093, lx: 127, ly: 1135,
    boxes: [{ l: 124, t: 1163, w: 246, h: 158 }, { l: 443, t: 1163, w: 246, h: 158 }, { l: 124, t: 1376, w: 565, h: 158 }],
    series: [[e_dS_1, e_dS_25, e_dS_50, e_dS_75, e_dS_100], [e_dc_1, e_dc_25, e_dc_50, e_dc_75, e_dc_100], [e_KL_1, e_KL_25, e_KL_50, e_KL_75, e_KL_100]],
    ticks: [[-2, -1, 0], [0, 0.2], [0, 1, 2, 3]],
    domains: [[-2.03, 0.86], [-0.169, 0.372], [-0.14, 3.76]], decs: [0, 1, 0], offs: [30, 37, 28],
  },
  {
    title: "(f) Layer = 21", tx: 1007, ty: 1093, lx: 746, ly: 1134,
    boxes: [{ l: 744, t: 1163, w: 246, h: 158 }, { l: 1063, t: 1163, w: 245, h: 158 }, { l: 744, t: 1376, w: 564, h: 158 }],
    series: [[f_dS_1, f_dS_25, f_dS_50, f_dS_75, f_dS_100], [f_dc_1, f_dc_25, f_dc_50, f_dc_75, f_dc_100], [f_KL_1, f_KL_25, f_KL_50, f_KL_75, f_KL_100]],
    ticks: [[-2, -1, 0, 1], [-0.2, 0, 0.2, 0.4], [0, 1, 2, 3]],
    domains: [[-2.72, 1.35], [-0.271, 0.475], [-0.12, 3.17]], decs: [0, 1, 0], offs: [30, 44, 28],
  },
];

const KINDS: Kind[] = ["dS", "dc", "KL"];

const capLine: React.CSSProperties = {
  position: "absolute", left: 16, width: 1354, fontFamily: SERIF, fontSize: 30, lineHeight: "34px",
  color: "#000", textAlign: "justify", textAlignLast: "justify", wordSpacing: -4,
};

export default function App() {
  return (
    <div style={{ position: "absolute", left: 0, top: 0, width: 1392, height: 1729, background: "#fff", overflow: "hidden" }}>
      {PANELS.map((p) => (
        <React.Fragment key={p.title}>
          <div style={{ position: "absolute", left: p.tx - 200, width: 400, top: p.ty - 17, textAlign: "center",
            fontFamily: SERIF, fontSize: 28, lineHeight: "34px", color: "#000" }}>{p.title}</div>
          <Legend x={p.lx} y={p.ly} />
          {KINDS.map((k, i) => (
            <Sub key={k} box={p.boxes[i]} kind={k} series={p.series[i]} yTicks={p.ticks[i]}
              yDomain={p.domains[i]} dec={p.decs[i]} labelOff={p.offs[i]} />
          ))}
        </React.Fragment>
      ))}
      <div style={{ ...capLine, top: 1614 }}>
        Figure 21: <b>Layer-wise mean-steering effects in Dream.</b> We apply mean vector steering at different intervention
      </div>
      <div style={{ ...capLine, top: 1649 }}>
        layers and target denoising-progress bins <i>t{"\u0302"}</i> ∈ {"{"}1, 25, 50, 75, 100{"}"}. Each panel reports the downstream effect on
      </div>
      <div style={{ ...capLine, top: 1683, textAlignLast: "left", wordSpacing: 0 }}>
        entropy drift, confidence drift and KL divergence across denoising steps.
      </div>
    </div>
  );
}
